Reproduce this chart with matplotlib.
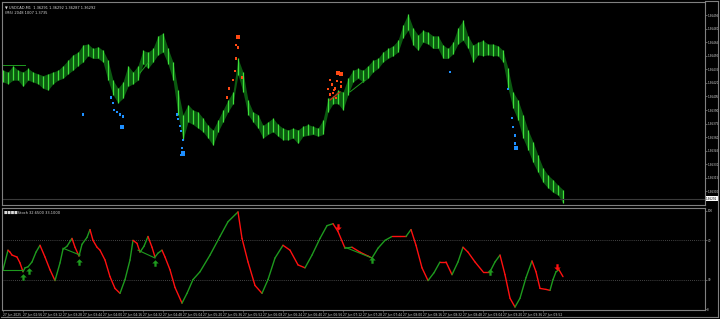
import numpy as np
import matplotlib.pyplot as plt
from matplotlib.path import Path
from matplotlib.lines import Line2D

# --- price bars (USDCAD M1) ---
bar_high = [1.36434, 1.36432, 1.36439, 1.36434, 1.36432, 1.36436, 1.36432, 1.36430, 1.36428, 1.36430,
            1.36432, 1.36434, 1.36439, 1.36445, 1.36451, 1.36454, 1.36462, 1.36463, 1.36458, 1.36460,
            1.36456, 1.36445, 1.36423, 1.36414, 1.36421, 1.36439, 1.36432, 1.36439, 1.36456, 1.36454,
            1.36458, 1.36472, 1.36475, 1.36458, 1.36443, 1.36412, 1.36385, 1.36396, 1.36390, 1.36388,
            1.36381, 1.36373, 1.36368, 1.36379, 1.36390, 1.36401, 1.36410, 1.36447, 1.36432, 1.36401,
            1.36388, 1.36385, 1.36373, 1.36377, 1.36381, 1.36374, 1.36370, 1.36368, 1.36370, 1.36368,
            1.36372, 1.36374, 1.36372, 1.36370, 1.36379, 1.36403, 1.36405, 1.36412, 1.36410, 1.36425,
            1.36434, 1.36436, 1.36434, 1.36439, 1.36445, 1.36447, 1.36454, 1.36458, 1.36461, 1.36467,
            1.36484, 1.36496, 1.36481, 1.36473, 1.36478, 1.36476, 1.36472, 1.36472, 1.36462, 1.36458,
            1.36465, 1.36481, 1.36489, 1.36472, 1.36462, 1.36465, 1.36467, 1.36463, 1.36463, 1.36461,
            1.36456, 1.36436, 1.36410, 1.36401, 1.36385, 1.36368, 1.36355, 1.36340, 1.36326, 1.36318,
            1.36313, 1.36307, 1.36302]
bar_low = [1.36421, 1.36419, 1.36423, 1.36423, 1.36416, 1.36423, 1.36421, 1.36419, 1.36414, 1.36412,
           1.36419, 1.36423, 1.36425, 1.36430, 1.36434, 1.36439, 1.36443, 1.36450, 1.36447, 1.36447,
           1.36443, 1.36423, 1.36407, 1.36398, 1.36403, 1.36416, 1.36419, 1.36423, 1.36441, 1.36436,
           1.36443, 1.36451, 1.36454, 1.36441, 1.36423, 1.36385, 1.36357, 1.36377, 1.36374, 1.36370,
           1.36366, 1.36359, 1.36351, 1.36366, 1.36377, 1.36388, 1.36397, 1.36429, 1.36410, 1.36385,
           1.36377, 1.36370, 1.36359, 1.36363, 1.36366, 1.36361, 1.36357, 1.36357, 1.36359, 1.36353,
           1.36361, 1.36362, 1.36363, 1.36361, 1.36363, 1.36388, 1.36397, 1.36397, 1.36390, 1.36407,
           1.36421, 1.36425, 1.36421, 1.36425, 1.36432, 1.36436, 1.36443, 1.36447, 1.36450, 1.36454,
           1.36470, 1.36478, 1.36462, 1.36456, 1.36465, 1.36463, 1.36458, 1.36458, 1.36447, 1.36447,
           1.36452, 1.36463, 1.36467, 1.36458, 1.36443, 1.36451, 1.36450, 1.36451, 1.36450, 1.36450,
           1.36443, 1.36414, 1.36392, 1.36379, 1.36359, 1.36346, 1.36332, 1.36321, 1.36310, 1.36304,
           1.36299, 1.36296, 1.36287]
bid_price = 1.36292

# signal dots on the price chart (bar index, price, big?)
buy_bar = [16, 21.6, 22, 22.2, 22.8, 23.4, 24, 23.8, 34.8, 35, 35.4, 35.6, 36, 35.8, 36, 35.6,
           89.4, 101, 101.8, 102, 102.4, 102.4, 102.6]
buy_price = [1.36385, 1.36404, 1.36398, 1.36390, 1.36388, 1.36385, 1.36383, 1.36371, 1.36385, 1.36380,
             1.36372, 1.36367, 1.36357, 1.36348, 1.36342, 1.36340, 1.36432, 1.36413, 1.36381, 1.36371,
             1.36362, 1.36353, 1.36348]
buy_big = [0, 0, 0, 0, 0, 0, 0, 1, 0, 0, 0, 0, 0, 0, 1, 0, 0, 0, 0, 0, 0, 0, 1]
sell_bar = [47, 46.6, 47, 46.6, 46.4, 47.8, 46, 45.2, 44.8,
            67, 67.6, 65.4, 66.8, 67.6, 65.8, 67.6, 66.4, 65, 66.2, 65.4, 66, 66.6]
sell_price = [1.36471, 1.36462, 1.36459, 1.36447, 1.36433, 1.36426, 1.36423, 1.36414, 1.36404,
              1.36431, 1.36430, 1.36423, 1.36422, 1.36421, 1.36418, 1.36416, 1.36414, 1.36413,
              1.36412, 1.36407, 1.36409, 1.36403]
sell_big = [1, 0, 0, 0, 0, 0, 0, 0, 0, 1, 1, 0, 0, 0, 0, 0, 0, 0, 0, 0, 0, 0]

# stochastic oscillator knots (bar index, value)
stoch_bar = [-0.6, 0, 1, 1.4, 1.8, 2.8, 3.4, 4, 4.4, 5, 5.8, 6.6, 7.4, 8.4, 9.4, 10.4, 11.4, 12,
             12.8, 13.8, 14.4, 15.2, 15.8, 16.8, 17.4, 18, 18.8, 19.4, 20.4, 21.4, 22.4, 23.4,
             24.4, 25.4, 26, 26.8, 27.4, 28.2, 29, 29.8, 30.4, 31, 31.8, 32.4, 33.4, 34.4, 35.8,
             36.8, 38, 39.4, 41.4, 43.4, 45, 47, 47.8, 49, 50.4, 51.8, 53, 54.4, 56, 57.4, 59,
             60.4, 61.8, 63.4, 64.8, 66, 67, 68.4, 69.8, 71.4, 73, 73.8, 75, 76.4, 77.8, 79.4,
             80.6, 81.6, 82.6, 83.8, 85, 86.2, 87.4, 88.6, 89.8, 91, 92, 93, 94.4, 96, 97.4,
             98.4, 99.4, 100.4, 101.4, 102.4, 103.4, 104.6, 105.8, 106.6, 107.4, 108.6, 109.4,
             110, 110.6, 111.2, 112]
stoch_val = [38, 40, 60, 58, 55, 53, 47, 38, 42, 43, 48, 58, 65, 53, 40, 29, 47, 61,
             64, 72, 63, 54, 66, 73, 81, 70, 63, 60, 50, 33, 21, 16,
             30, 50, 70, 67, 58, 64, 74, 63, 53, 57, 60, 53, 40, 22, 6,
             16, 30, 38, 55, 74, 89, 99, 72, 48, 24, 16, 30, 52, 65, 60, 45,
             42, 55, 72, 85, 87, 79, 62, 63, 58, 54, 52, 62, 70, 74, 74,
             74, 81, 65, 42, 29, 37, 48, 48, 35, 48, 63, 58, 48, 38, 38,
             48, 55, 35, 11, 2, 11, 32, 49, 38, 21, 20, 19,
             30, 38, 40, 33]
up_arrow_bar = [4, 5.2, 15.2, 30.4, 73.8, 97.4]
up_arrow_val = [33, 39, 48, 47, 50, 38]
down_arrow_bar = [67, 110.8]
down_arrow_val = [84, 43]

time_labels = ["27 Jun 2025"] + ["27 Jun %02d:%02d" % divmod(160 + 16 * k, 60) for k in range(1, 28)]

BG = "black"
GRID = "#808080"
TXT = "#d8d8d8"
W, H = 720, 319

fig = plt.figure(figsize=(W / 100, H / 100), dpi=100, facecolor=BG)
ax = fig.add_axes([2 / W, (H - 205) / H, 703 / W, 203 / H], facecolor=BG)
ax2 = fig.add_axes([2 / W, (H - 310) / H, 703 / W, 102 / H], facecolor=BG)

# outer frame: right scale strip and bottom time strip
fig.add_artist(Line2D([718 / W, 718 / W], [2 / H, 1 - 1 / H], color=GRID, lw=0.8))
fig.add_artist(Line2D([1 / W, 718 / W], [2 / H, 2 / H], color=GRID, lw=0.8))
fig.add_artist(Line2D([705 / W, 718 / W], [1 - 1 / H, 1 - 1 / H], color=GRID, lw=0.8))

x = np.arange(len(bar_high))
for a in (ax, ax2):
    a.set_xlim(-0.2, 140.4)
    for s in a.spines.values():
        s.set_color(GRID)
        s.set_linewidth(0.8)
    a.yaxis.tick_right()
    a.tick_params(axis="y", colors=GRID, labelcolor=TXT, labelsize=2.0, length=1.2, width=0.5, pad=0.5)

# price panel
ax.fill_between(x, bar_low, bar_high, color="#0b5a10", lw=0)
ax.vlines(x, bar_low, bar_high, color="#3ee03a", lw=0.9)
ax.axhline(bid_price, color="#3a3a3a", lw=0.8)
ax.set_ylim(1.36285, 1.365094)
ticks = np.round(np.arange(1.36495, 1.36299, -0.00015), 5)
ax.set_yticks(ticks)
ax.set_yticklabels(["%.5f" % t for t in ticks])
ax.set_xticks([])

# helper lines on the price chart
ax.plot([-0.6, 4.4], [1.36440, 1.36440], color="#1f9a1f", lw=0.7)
ax.plot([27.4, 29], [1.36431, 1.36442], color="#1f9a1f", lw=0.7)
ax.plot([65.4, 67.4], [1.36401, 1.36410], color="#e0201a", lw=0.8)
ax.plot([69.4, 72.4], [1.36410, 1.36423], color="#1f9a1f", lw=0.7)

bs = [10 if b else 3 for b in buy_big]
ss = [10 if b else 3 for b in sell_big]
ax.scatter(buy_bar, buy_price, s=bs, color="#1e8fff", marker="s", lw=0, zorder=4)
ax.scatter(sell_bar, sell_price, s=ss, color="#ff4a14", marker="s", lw=0, zorder=4)

ax.annotate("%.5f" % bid_price, xy=(1.0, bid_price), xycoords=("axes fraction", "data"),
            xytext=(0.8, 0), textcoords="offset points", fontsize=2.0, color="black", va="center",
            bbox=dict(boxstyle="square,pad=0.15", fc="white", ec="none"), annotation_clip=False)

ax.text(0.004, 0.985, "\u25bc USDCAD,M1  1.36291 1.36292 1.36287 1.36292", transform=ax.transAxes,
        fontsize=2.6, color=TXT, va="top")
ax.text(0.004, 0.955, "(M5) 2048 1007 1.3735", transform=ax.transAxes,
        fontsize=2.6, color=TXT, va="top")

# stochastic panel
ax2.set_ylim(-1, 103)
ax2.set_yticks([100, 70, 30, 0])
for lvl in (70, 30):
    ax2.axhline(lvl, color="#5a5a5a", lw=0.6, ls=(0, (1, 1.5)))
for i in range(len(stoch_bar) - 1):
    c = "#1e9a1e" if stoch_val[i + 1] > stoch_val[i] else "#ff1010"
    ax2.plot(stoch_bar[i:i + 2], stoch_val[i:i + 2], color=c, lw=1.0, solid_capstyle="round")

ax2.plot([-0.6, 4], [40, 40], color="#1e9a1e", lw=0.8)
ax2.plot([12, 15.4], [62, 55], color="#1e9a1e", lw=0.8)
ax2.plot([27, 30.4], [60, 52], color="#1e9a1e", lw=0.8)
ax2.plot([68.4, 73.8], [63, 52], color="#1e9a1e", lw=0.8)

arrow = Path([(0, 1), (-1, 0), (-0.35, 0), (-0.35, -1), (0.35, -1), (0.35, 0), (1, 0), (0, 1)])
arrow_dn = Path([(0, -1), (-1, 0), (-0.35, 0), (-0.35, 1), (0.35, 1), (0.35, 0), (1, 0), (0, -1)])
ax2.scatter(up_arrow_bar, up_arrow_val, marker=arrow, s=22, color="#1e9a1e", lw=0, zorder=5)
ax2.scatter(down_arrow_bar, down_arrow_val, marker=arrow_dn, s=22, color="#ff1010", lw=0, zorder=5)

ax2.set_xticks(np.arange(0, 112, 4))
ax2.set_xticklabels(time_labels, ha="left")
ax2.tick_params(axis="x", colors=GRID, labelcolor=TXT, labelsize=2.2, length=1.5, width=0.5, pad=1)

ax2.text(0.003, 0.97, "\u25a0\u25a0\u25a0\u25a0Stoch 32.6500 33.1000", transform=ax2.transAxes,
         fontsize=2.6, color=TXT, va="top")

fig.savefig("out.png", dpi=100, facecolor=BG)
